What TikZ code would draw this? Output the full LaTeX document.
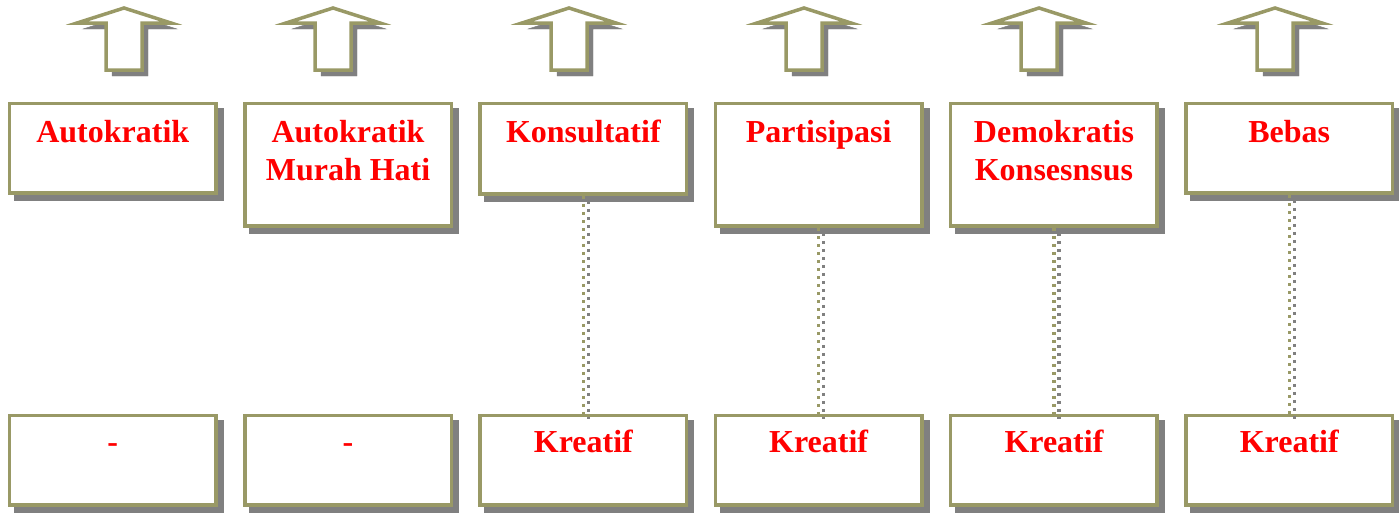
\documentclass[tikz,border=0pt]{standalone}
\usepackage{fontspec}
\setmainfont{Liberation Serif}
\definecolor{boxolive}{RGB}{153,153,102}
\definecolor{shgray}{RGB}{128,128,128}
\begin{document}
\begin{tikzpicture}[x=1pt,y=-1pt,
  shad/.style={preaction={draw=shgray,fill=shgray,transform canvas={xshift=#1,yshift=-#1}}},
  shad/.default=6pt,
  box/.style={rectangle,draw=boxolive,fill=white,line width=3.5pt,inner sep=0pt,
    minimum width=206.5pt,anchor=north west,shad},
  lbl/.style={font=\fontsize{32}{38}\selectfont\bfseries,text=red,align=center,inner sep=0pt,anchor=north},
  conn/.style={draw=boxolive,line width=3.5pt,dash pattern=on 3pt off 5pt,
    preaction={draw=shgray,line width=3.5pt,dash pattern=on 3pt off 5pt,
      transform canvas={xshift=5pt,yshift=-5pt}}},
  uparrow/.style={draw=boxolive,fill=white,line width=3.5pt,line join=miter,shad=6pt}
]
\useasboundingbox (0,0) rectangle (1399,512);

% arrows
\foreach \cx in {124,333,569,804,1039,1275}{
  \path[uparrow] (\cx,8) -- (\cx+47,23) -- (\cx+18,23) -- (\cx+18,70)
     -- (\cx-18,70) -- (\cx-18,23) -- (\cx-47,23) -- cycle;
}

% top boxes
\node[box,minimum height=89.5pt]  (t1) at (7.75,101.75) {};
\node[box,minimum height=122.5pt] (t2) at (243.05,101.75) {};
\node[box,minimum height=90.5pt]  (t3) at (478.35,101.75) {};
\node[box,minimum height=122.5pt] (t4) at (713.65,101.75) {};
\node[box,minimum height=122.5pt] (t5) at (948.95,101.75) {};
\node[box,minimum height=89.5pt]  (t6) at (1184.25,101.75) {};

% bottom boxes
\node[box,minimum height=89.5pt] (b1) at (7.75,413.75) {};
\node[box,minimum height=89.5pt] (b2) at (243.05,413.75) {};
\node[box,minimum height=89.5pt] (b3) at (478.35,413.75) {};
\node[box,minimum height=89.5pt] (b4) at (713.65,413.75) {};
\node[box,minimum height=89.5pt] (b5) at (948.95,413.75) {};
\node[box,minimum height=89.5pt] (b6) at (1184.25,413.75) {};

% connectors
\draw[conn] (t3.south) -- (b3.north);
\draw[conn] (t4.south) -- (b4.north);
\draw[conn] (t5.south) -- (b5.north);
\draw[conn] (t6.south) -- (b6.north);

% labels
\node[lbl] (l1) at ([yshift=-13.6pt]t1.north) {\strut Autokratik};
\node[lbl] (l2) at ([yshift=-13.6pt]t2.north) {\strut Autokratik\\Murah Hati};
\node[lbl] (l3) at ([yshift=-13.6pt]t3.north) {\strut Konsultatif};
\node[lbl] (l4) at ([yshift=-13.6pt]t4.north) {\strut Partisipasi};
\node[lbl] (l5) at ([yshift=-13.6pt]t5.north) {\strut Demokratis\\Konsesnsus};
\node[lbl] (l6) at ([yshift=-13.6pt]t6.north) {\strut Bebas};

\node[lbl] (m1) at ([yshift=-11.6pt]b1.north) {\strut -};
\node[lbl] (m2) at ([yshift=-11.6pt]b2.north) {\strut -};
\node[lbl] (m3) at ([yshift=-11.6pt]b3.north) {\strut Kreatif};
\node[lbl] (m4) at ([yshift=-11.6pt]b4.north) {\strut Kreatif};
\node[lbl] (m5) at ([yshift=-11.6pt]b5.north) {\strut Kreatif};
\node[lbl] (m6) at ([yshift=-11.6pt]b6.north) {\strut Kreatif};
\end{tikzpicture}
\end{document}
